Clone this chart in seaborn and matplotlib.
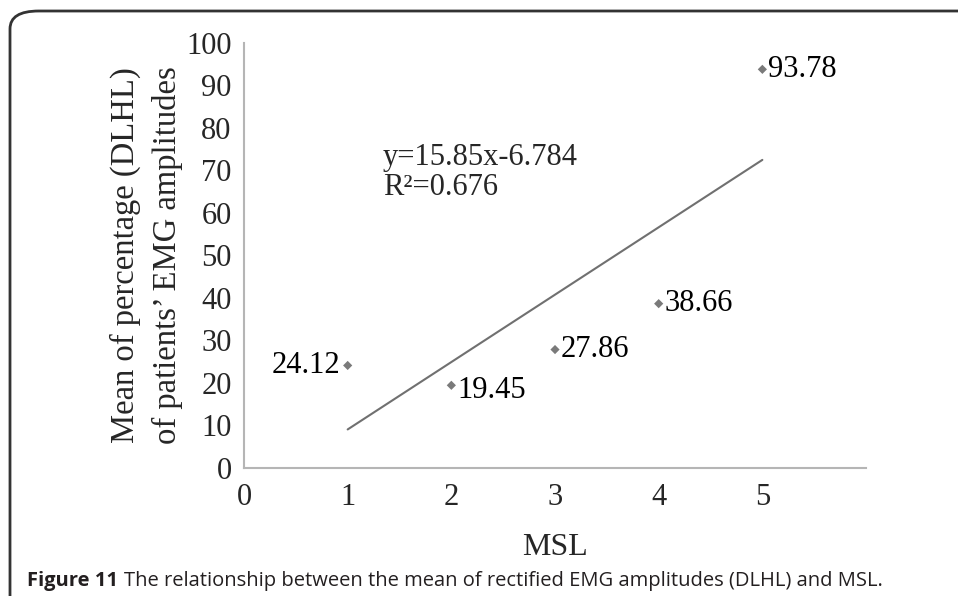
import numpy as np
import pandas as pd
import matplotlib
matplotlib.use('Agg')
import matplotlib.pyplot as plt
import seaborn as sns
from matplotlib.patches import FancyBboxPatch

# data
msl = [1, 2, 3, 4, 5]
emg_mean = [24.12, 19.45, 27.86, 38.66, 93.78]
point_labels = ['24.12', '19.45', '27.86', '38.66', '93.78']
x_ticks = [0, 1, 2, 3, 4, 5, 6]
x_ticklabels = ['0', '1', '2', '3', '4', '5', '']
y_ticks = [0, 10, 20, 30, 40, 50, 60, 70, 80, 90, 100]
eq_text = 'y=15.85x-6.784\nR²=0.676'

df = pd.DataFrame({'MSL': msl, 'EMG': emg_mean})

sns.set_style('white')
plt.rcParams['font.family'] = ['Liberation Serif', 'DejaVu Serif']

fig = plt.figure(figsize=(9.58, 5.96), dpi=100)
ax = fig.add_axes([0.2547, 0.2148, 0.904 - 0.2547, 0.928 - 0.2148])

# linear trend line (fitted over the data range)
sns.regplot(data=df, x='MSL', y='EMG', ax=ax, scatter=False, ci=None,
            truncate=True, line_kws={'color': '#707070', 'lw': 1.5})
sns.scatterplot(data=df, x='MSL', y='EMG', ax=ax, marker='D', s=22,
                color='#7a7a7a', edgecolor='none', zorder=3)

# point labels
offsets = [(-5, 0, 'right', 'center'), (4, -4, 'left', 'center'),
           (4, 0, 'left', 'center'), (4, 0, 'left', 'center'),
           (4, 0, 'left', 'center')]
for xv, yv, lab, (dx, dy, ha, va) in zip(msl, emg_mean, point_labels, offsets):
    ax.annotate(lab, (xv, yv), xytext=(dx, dy), textcoords='offset points',
                ha=ha, va=va, fontsize=22, color='black')

ax.text(1.34, 69.6, eq_text, fontsize=22, ha='left', va='center',
        linespacing=1.05)

ax.set_xlim(0, 6)
ax.set_ylim(0, 100)
ax.set_xticks(x_ticks)
ax.set_xticklabels(x_ticklabels)
ax.set_yticks(y_ticks)
ax.tick_params(axis='both', labelsize=22, length=4, width=1.2,
               color='#b5b5b5', direction='out', pad=5)
ax.tick_params(axis='x', pad=7)

for side in ['top', 'right']:
    ax.spines[side].set_visible(False)
for side in ['left', 'bottom']:
    ax.spines[side].set_color('#b5b5b5')
    ax.spines[side].set_linewidth(1.5)

ax.set_xlabel('MSL', fontsize=23, labelpad=15)
ax.set_ylabel('Mean of percentage (DLHL)\nof patients’ EMG amplitudes',
              fontsize=23.5, labelpad=2, linespacing=1.45)

# caption and frame
cap_y = 1 - 581 / 596
t1 = fig.text(27 / 958, cap_y, 'Figure 11', fontsize=14.5,
              fontweight='bold', family='Open Sans', color='#231f20',
              ha='left', va='center')
renderer = fig.canvas.get_renderer()
bb = t1.get_window_extent(renderer=renderer)
fig.text((bb.x1 + 6) / 958, cap_y,
         'The relationship between the mean of rectified EMG amplitudes (DLHL) and MSL.',
         fontsize=14.5, family='Open Sans', color='#231f20',
         ha='left', va='center')

frame = FancyBboxPatch((10 / 958, -0.2), 1.2, 1.2 - 11 / 596,
                       boxstyle='round,pad=0,rounding_size=0.03',
                       transform=fig.transFigure, fill=False,
                       edgecolor='#333333', lw=2, clip_on=False)
fig.patches.append(frame)

fig.savefig('out.png', dpi=100)
